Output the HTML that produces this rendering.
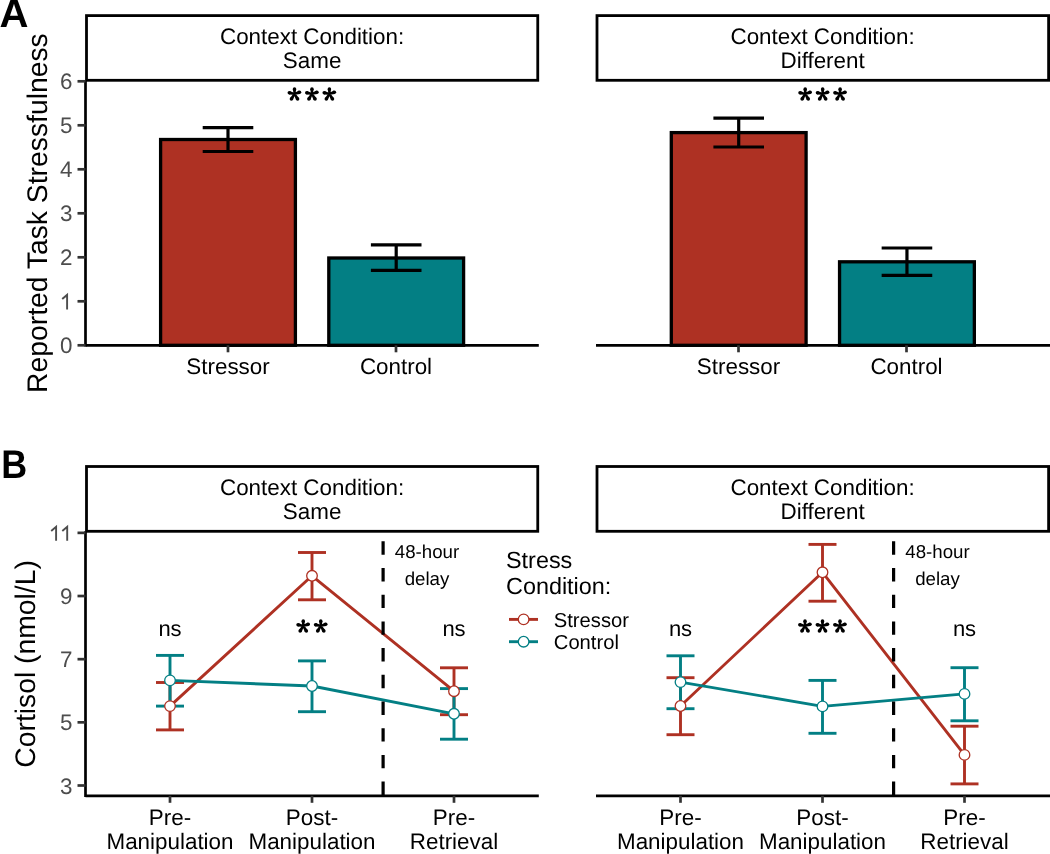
<!DOCTYPE html>
<html><head><meta charset="utf-8"><style>
html,body{margin:0;padding:0;background:#fff;}
svg{display:block;font-family:"Liberation Sans", sans-serif;will-change:transform;text-rendering:geometricPrecision;}
</style></head><body>
<svg width="1050" height="854" viewBox="0 0 1050 854">
<rect width="1050" height="854" fill="#fff"/>
<text transform="translate(-0.6,26.9) scale(1.1,1.092)" font-size="36.5" font-weight="bold" fill="#000">A</text>
<text transform="translate(1.23,477.6) scale(0.983,1.093)" font-size="36.5" font-weight="bold" fill="#000">B</text>
<text transform="translate(47,213.1) rotate(-90)" font-size="28.3" text-anchor="middle" fill="#000">Reported Task Stressfulness</text>
<text transform="translate(35,663.9) rotate(-90)" font-size="28.3" text-anchor="middle" fill="#000">Cortisol (nmol/L)</text>
<rect x="86.5" y="15.6" width="451.25" height="64.7" fill="#fff" stroke="#000" stroke-width="2.8"/>
<text x="312.1" y="43.7" font-size="22.4" text-anchor="middle" fill="#000" font-weight="normal" >Context Condition:</text>
<text x="312.1" y="68.3" font-size="22.4" text-anchor="middle" fill="#000" font-weight="normal" >Same</text>
<rect x="160.6" y="139.5" width="134.8" height="205.8" fill="#AE3123" stroke="#000" stroke-width="3.3"/>
<line x1="228.0" y1="127.7" x2="228.0" y2="151.5" stroke="#000" stroke-width="3.2" />
<line x1="202.7" y1="127.7" x2="253.3" y2="127.7" stroke="#000" stroke-width="3.2" />
<line x1="202.7" y1="151.5" x2="253.3" y2="151.5" stroke="#000" stroke-width="3.2" />
<rect x="328.79999999999995" y="258.0" width="134.8" height="87.30000000000001" fill="#037F84" stroke="#000" stroke-width="3.3"/>
<line x1="396.2" y1="244.8" x2="396.2" y2="270.4" stroke="#000" stroke-width="3.2" />
<line x1="370.9" y1="244.8" x2="421.5" y2="244.8" stroke="#000" stroke-width="3.2" />
<line x1="370.9" y1="270.4" x2="421.5" y2="270.4" stroke="#000" stroke-width="3.2" />
<line x1="85.5" y1="345.3" x2="538.8" y2="345.3" stroke="#000" stroke-width="2.7" />
<line x1="228.0" y1="345.3" x2="228.0" y2="352.3" stroke="#333" stroke-width="2.7" />
<text x="228.0" y="374" font-size="22.4" text-anchor="middle" fill="#000" font-weight="normal" >Stressor</text>
<line x1="396.0" y1="345.3" x2="396.0" y2="352.3" stroke="#333" stroke-width="2.7" />
<text x="396.0" y="374" font-size="22.4" text-anchor="middle" fill="#000" font-weight="normal" >Control</text>
<circle cx="294.50" cy="89.10" r="1.75" fill="#000"/>
<circle cx="289.30" cy="92.70" r="1.75" fill="#000"/>
<circle cx="299.50" cy="92.30" r="1.75" fill="#000"/>
<circle cx="291.40" cy="99.10" r="1.75" fill="#000"/>
<circle cx="297.60" cy="99.10" r="1.75" fill="#000"/>
<path d="M295.40 93.80L296.25 89.10L292.75 89.10L293.60 93.80ZM294.69 92.92L289.66 90.99L288.94 94.41L294.31 94.68ZM294.76 94.66L300.00 93.98L299.00 90.62L294.24 92.94ZM293.72 93.35L289.89 98.22L292.91 99.98L295.28 94.25ZM293.72 94.25L296.09 99.98L299.11 98.22L295.28 93.35Z" fill="#000"/>
<circle cx="311.95" cy="89.10" r="1.75" fill="#000"/>
<circle cx="306.75" cy="92.70" r="1.75" fill="#000"/>
<circle cx="316.95" cy="92.30" r="1.75" fill="#000"/>
<circle cx="308.85" cy="99.10" r="1.75" fill="#000"/>
<circle cx="315.05" cy="99.10" r="1.75" fill="#000"/>
<path d="M312.85 93.80L313.70 89.10L310.20 89.10L311.05 93.80ZM312.14 92.92L307.11 90.99L306.39 94.41L311.76 94.68ZM312.21 94.66L317.45 93.98L316.45 90.62L311.69 92.94ZM311.17 93.35L307.34 98.22L310.36 99.98L312.73 94.25ZM311.17 94.25L313.54 99.98L316.56 98.22L312.73 93.35Z" fill="#000"/>
<circle cx="329.40" cy="89.10" r="1.75" fill="#000"/>
<circle cx="324.20" cy="92.70" r="1.75" fill="#000"/>
<circle cx="334.40" cy="92.30" r="1.75" fill="#000"/>
<circle cx="326.30" cy="99.10" r="1.75" fill="#000"/>
<circle cx="332.50" cy="99.10" r="1.75" fill="#000"/>
<path d="M330.30 93.80L331.15 89.10L327.65 89.10L328.50 93.80ZM329.59 92.92L324.56 90.99L323.84 94.41L329.21 94.68ZM329.66 94.66L334.90 93.98L333.90 90.62L329.14 92.94ZM328.62 93.35L324.79 98.22L327.81 99.98L330.18 94.25ZM328.62 94.25L330.99 99.98L334.01 98.22L330.18 93.35Z" fill="#000"/>
<rect x="597.0" y="15.6" width="451.5999999999999" height="64.7" fill="#fff" stroke="#000" stroke-width="2.8"/>
<text x="822.6" y="43.7" font-size="22.4" text-anchor="middle" fill="#000" font-weight="normal" >Context Condition:</text>
<text x="822.6" y="68.3" font-size="22.4" text-anchor="middle" fill="#000" font-weight="normal" >Different</text>
<rect x="671.3000000000001" y="132.6" width="134.8" height="212.70000000000002" fill="#AE3123" stroke="#000" stroke-width="3.3"/>
<line x1="738.7" y1="118.1" x2="738.7" y2="147.0" stroke="#000" stroke-width="3.2" />
<line x1="713.4000000000001" y1="118.1" x2="764.0" y2="118.1" stroke="#000" stroke-width="3.2" />
<line x1="713.4000000000001" y1="147.0" x2="764.0" y2="147.0" stroke="#000" stroke-width="3.2" />
<rect x="839.5500000000001" y="261.8" width="134.8" height="83.5" fill="#037F84" stroke="#000" stroke-width="3.3"/>
<line x1="906.95" y1="248.0" x2="906.95" y2="275.3" stroke="#000" stroke-width="3.2" />
<line x1="881.6500000000001" y1="248.0" x2="932.25" y2="248.0" stroke="#000" stroke-width="3.2" />
<line x1="881.6500000000001" y1="275.3" x2="932.25" y2="275.3" stroke="#000" stroke-width="3.2" />
<line x1="596.0" y1="345.3" x2="1050" y2="345.3" stroke="#000" stroke-width="2.7" />
<line x1="738.5" y1="345.3" x2="738.5" y2="352.3" stroke="#333" stroke-width="2.7" />
<text x="738.5" y="374" font-size="22.4" text-anchor="middle" fill="#000" font-weight="normal" >Stressor</text>
<line x1="906.5" y1="345.3" x2="906.5" y2="352.3" stroke="#333" stroke-width="2.7" />
<text x="906.5" y="374" font-size="22.4" text-anchor="middle" fill="#000" font-weight="normal" >Control</text>
<circle cx="805.20" cy="89.10" r="1.75" fill="#000"/>
<circle cx="800.00" cy="92.70" r="1.75" fill="#000"/>
<circle cx="810.20" cy="92.30" r="1.75" fill="#000"/>
<circle cx="802.10" cy="99.10" r="1.75" fill="#000"/>
<circle cx="808.30" cy="99.10" r="1.75" fill="#000"/>
<path d="M806.10 93.80L806.95 89.10L803.45 89.10L804.30 93.80ZM805.39 92.92L800.36 90.99L799.64 94.41L805.01 94.68ZM805.46 94.66L810.70 93.98L809.70 90.62L804.94 92.94ZM804.42 93.35L800.59 98.22L803.61 99.98L805.98 94.25ZM804.42 94.25L806.79 99.98L809.81 98.22L805.98 93.35Z" fill="#000"/>
<circle cx="822.65" cy="89.10" r="1.75" fill="#000"/>
<circle cx="817.45" cy="92.70" r="1.75" fill="#000"/>
<circle cx="827.65" cy="92.30" r="1.75" fill="#000"/>
<circle cx="819.55" cy="99.10" r="1.75" fill="#000"/>
<circle cx="825.75" cy="99.10" r="1.75" fill="#000"/>
<path d="M823.55 93.80L824.40 89.10L820.90 89.10L821.75 93.80ZM822.84 92.92L817.81 90.99L817.09 94.41L822.46 94.68ZM822.91 94.66L828.15 93.98L827.15 90.62L822.39 92.94ZM821.87 93.35L818.04 98.22L821.06 99.98L823.43 94.25ZM821.87 94.25L824.24 99.98L827.26 98.22L823.43 93.35Z" fill="#000"/>
<circle cx="840.10" cy="89.10" r="1.75" fill="#000"/>
<circle cx="834.90" cy="92.70" r="1.75" fill="#000"/>
<circle cx="845.10" cy="92.30" r="1.75" fill="#000"/>
<circle cx="837.00" cy="99.10" r="1.75" fill="#000"/>
<circle cx="843.20" cy="99.10" r="1.75" fill="#000"/>
<path d="M841.00 93.80L841.85 89.10L838.35 89.10L839.20 93.80ZM840.29 92.92L835.26 90.99L834.54 94.41L839.91 94.68ZM840.36 94.66L845.60 93.98L844.60 90.62L839.84 92.94ZM839.32 93.35L835.49 98.22L838.51 99.98L840.88 94.25ZM839.32 94.25L841.69 99.98L844.71 98.22L840.88 93.35Z" fill="#000"/>
<line x1="85.5" y1="80.3" x2="85.5" y2="346.6" stroke="#000" stroke-width="2.7" />
<line x1="77.5" y1="345.3" x2="85.5" y2="345.3" stroke="#333" stroke-width="2.7" />
<text x="72.5" y="353.3" font-size="22.4" text-anchor="end" fill="#4d4d4d" font-weight="normal" >0</text>
<line x1="77.5" y1="301.3" x2="85.5" y2="301.3" stroke="#333" stroke-width="2.7" />
<path d="M62.20 299.00L67.10 294.90L67.10 309.60" stroke="#4d4d4d" stroke-width="1.9" fill="none" stroke-linejoin="miter" stroke-linecap="butt"/>
<line x1="77.5" y1="257.3" x2="85.5" y2="257.3" stroke="#333" stroke-width="2.7" />
<text x="72.5" y="265.3" font-size="22.4" text-anchor="end" fill="#4d4d4d" font-weight="normal" >2</text>
<line x1="77.5" y1="213.3" x2="85.5" y2="213.3" stroke="#333" stroke-width="2.7" />
<text x="72.5" y="221.3" font-size="22.4" text-anchor="end" fill="#4d4d4d" font-weight="normal" >3</text>
<line x1="77.5" y1="169.3" x2="85.5" y2="169.3" stroke="#333" stroke-width="2.7" />
<text x="72.5" y="177.3" font-size="22.4" text-anchor="end" fill="#4d4d4d" font-weight="normal" >4</text>
<line x1="77.5" y1="125.30000000000001" x2="85.5" y2="125.30000000000001" stroke="#333" stroke-width="2.7" />
<text x="72.5" y="133.3" font-size="22.4" text-anchor="end" fill="#4d4d4d" font-weight="normal" >5</text>
<line x1="77.5" y1="81.30000000000001" x2="85.5" y2="81.30000000000001" stroke="#333" stroke-width="2.7" />
<text x="72.5" y="89.30000000000001" font-size="22.4" text-anchor="end" fill="#4d4d4d" font-weight="normal" >6</text>
<rect x="86.5" y="466.5" width="451.25" height="64.79999999999995" fill="#fff" stroke="#000" stroke-width="2.8"/>
<text x="312.1" y="494.5" font-size="22.4" text-anchor="middle" fill="#000" font-weight="normal" >Context Condition:</text>
<text x="312.1" y="519" font-size="22.4" text-anchor="middle" fill="#000" font-weight="normal" >Same</text>
<line x1="85.5" y1="795.8" x2="538.8" y2="795.8" stroke="#000" stroke-width="2.7" />
<line x1="170.0" y1="795.8" x2="170.0" y2="802.8" stroke="#333" stroke-width="2.7" />
<text x="170.0" y="824.8" font-size="22.4" text-anchor="middle" fill="#000" font-weight="normal" >Pre-</text>
<text x="170.0" y="849.0" font-size="22.4" text-anchor="middle" fill="#000" font-weight="normal" >Manipulation</text>
<line x1="312.0" y1="795.8" x2="312.0" y2="802.8" stroke="#333" stroke-width="2.7" />
<text x="312.0" y="824.8" font-size="22.4" text-anchor="middle" fill="#000" font-weight="normal" >Post-</text>
<text x="312.0" y="849.0" font-size="22.4" text-anchor="middle" fill="#000" font-weight="normal" >Manipulation</text>
<line x1="454.0" y1="795.8" x2="454.0" y2="802.8" stroke="#333" stroke-width="2.7" />
<text x="454.0" y="824.8" font-size="22.4" text-anchor="middle" fill="#000" font-weight="normal" >Pre-</text>
<text x="454.0" y="849.0" font-size="22.4" text-anchor="middle" fill="#000" font-weight="normal" >Retrieval</text>
<text x="427.0" y="557.6" font-size="18.7" text-anchor="middle" fill="#000" font-weight="normal" >48-hour</text>
<text x="427.0" y="584.8" font-size="18.7" text-anchor="middle" fill="#000" font-weight="normal" >delay</text>
<line x1="170.0" y1="682.5" x2="170.0" y2="729.9" stroke="#AE3123" stroke-width="2.9" />
<line x1="156.0" y1="682.5" x2="184.0" y2="682.5" stroke="#AE3123" stroke-width="2.9" />
<line x1="156.0" y1="729.9" x2="184.0" y2="729.9" stroke="#AE3123" stroke-width="2.9" />
<line x1="312.0" y1="552.5" x2="312.0" y2="599.8" stroke="#AE3123" stroke-width="2.9" />
<line x1="298.0" y1="552.5" x2="326.0" y2="552.5" stroke="#AE3123" stroke-width="2.9" />
<line x1="298.0" y1="599.8" x2="326.0" y2="599.8" stroke="#AE3123" stroke-width="2.9" />
<line x1="454.0" y1="667.8" x2="454.0" y2="714.7" stroke="#AE3123" stroke-width="2.9" />
<line x1="440.0" y1="667.8" x2="468.0" y2="667.8" stroke="#AE3123" stroke-width="2.9" />
<line x1="440.0" y1="714.7" x2="468.0" y2="714.7" stroke="#AE3123" stroke-width="2.9" />
<line x1="170.0" y1="655.4" x2="170.0" y2="706.1" stroke="#037F84" stroke-width="2.9" />
<line x1="156.0" y1="655.4" x2="184.0" y2="655.4" stroke="#037F84" stroke-width="2.9" />
<line x1="156.0" y1="706.1" x2="184.0" y2="706.1" stroke="#037F84" stroke-width="2.9" />
<line x1="312.0" y1="660.9" x2="312.0" y2="711.7" stroke="#037F84" stroke-width="2.9" />
<line x1="298.0" y1="660.9" x2="326.0" y2="660.9" stroke="#037F84" stroke-width="2.9" />
<line x1="298.0" y1="711.7" x2="326.0" y2="711.7" stroke="#037F84" stroke-width="2.9" />
<line x1="454.0" y1="688.6" x2="454.0" y2="739.2" stroke="#037F84" stroke-width="2.9" />
<line x1="440.0" y1="688.6" x2="468.0" y2="688.6" stroke="#037F84" stroke-width="2.9" />
<line x1="440.0" y1="739.2" x2="468.0" y2="739.2" stroke="#037F84" stroke-width="2.9" />
<polyline points="170.0,706.1 312.0,575.8 454.0,691.2" fill="none" stroke="#AE3123" stroke-width="2.9" stroke-linejoin="round"/>
<polyline points="170.0,680.4 312.0,686.0 454.0,713.8" fill="none" stroke="#037F84" stroke-width="2.9" stroke-linejoin="round"/>
<line x1="383.1" y1="531.3" x2="383.1" y2="795.8" stroke="#000" stroke-width="3.2" stroke-dasharray="13.4 13.3" stroke-dashoffset="-10"/>
<circle cx="170.0" cy="706.1" r="5.3" fill="#fff" stroke="#AE3123" stroke-width="1.3"/>
<circle cx="312.0" cy="575.8" r="5.3" fill="#fff" stroke="#AE3123" stroke-width="1.3"/>
<circle cx="454.0" cy="691.2" r="5.3" fill="#fff" stroke="#AE3123" stroke-width="1.3"/>
<circle cx="170.0" cy="680.4" r="5.3" fill="#fff" stroke="#037F84" stroke-width="1.3"/>
<circle cx="312.0" cy="686.0" r="5.3" fill="#fff" stroke="#037F84" stroke-width="1.3"/>
<circle cx="454.0" cy="713.8" r="5.3" fill="#fff" stroke="#037F84" stroke-width="1.3"/>
<text x="170.0" y="635.8" font-size="22" text-anchor="middle" fill="#000" font-weight="normal" >ns</text>
<circle cx="303.25" cy="621.10" r="1.75" fill="#000"/>
<circle cx="298.05" cy="624.70" r="1.75" fill="#000"/>
<circle cx="308.25" cy="624.30" r="1.75" fill="#000"/>
<circle cx="300.15" cy="631.10" r="1.75" fill="#000"/>
<circle cx="306.35" cy="631.10" r="1.75" fill="#000"/>
<path d="M304.15 625.80L305.00 621.10L301.50 621.10L302.35 625.80ZM303.44 624.92L298.41 622.99L297.69 626.41L303.06 626.68ZM303.51 626.66L308.75 625.98L307.75 622.62L302.99 624.94ZM302.47 625.35L298.64 630.22L301.66 631.98L304.03 626.25ZM302.47 626.25L304.84 631.98L307.86 630.22L304.03 625.35Z" fill="#000"/>
<circle cx="320.75" cy="621.10" r="1.75" fill="#000"/>
<circle cx="315.55" cy="624.70" r="1.75" fill="#000"/>
<circle cx="325.75" cy="624.30" r="1.75" fill="#000"/>
<circle cx="317.65" cy="631.10" r="1.75" fill="#000"/>
<circle cx="323.85" cy="631.10" r="1.75" fill="#000"/>
<path d="M321.65 625.80L322.50 621.10L319.00 621.10L319.85 625.80ZM320.94 624.92L315.91 622.99L315.19 626.41L320.56 626.68ZM321.01 626.66L326.25 625.98L325.25 622.62L320.49 624.94ZM319.97 625.35L316.14 630.22L319.16 631.98L321.53 626.25ZM319.97 626.25L322.34 631.98L325.36 630.22L321.53 625.35Z" fill="#000"/>
<text x="454.0" y="635.8" font-size="22" text-anchor="middle" fill="#000" font-weight="normal" >ns</text>
<rect x="597.0" y="466.5" width="451.5999999999999" height="64.79999999999995" fill="#fff" stroke="#000" stroke-width="2.8"/>
<text x="822.6" y="494.5" font-size="22.4" text-anchor="middle" fill="#000" font-weight="normal" >Context Condition:</text>
<text x="822.6" y="519" font-size="22.4" text-anchor="middle" fill="#000" font-weight="normal" >Different</text>
<line x1="596" y1="795.8" x2="1050" y2="795.8" stroke="#000" stroke-width="2.7" />
<line x1="680.5" y1="795.8" x2="680.5" y2="802.8" stroke="#333" stroke-width="2.7" />
<text x="680.5" y="824.8" font-size="22.4" text-anchor="middle" fill="#000" font-weight="normal" >Pre-</text>
<text x="680.5" y="849.0" font-size="22.4" text-anchor="middle" fill="#000" font-weight="normal" >Manipulation</text>
<line x1="822.5" y1="795.8" x2="822.5" y2="802.8" stroke="#333" stroke-width="2.7" />
<text x="822.5" y="824.8" font-size="22.4" text-anchor="middle" fill="#000" font-weight="normal" >Post-</text>
<text x="822.5" y="849.0" font-size="22.4" text-anchor="middle" fill="#000" font-weight="normal" >Manipulation</text>
<line x1="964.5" y1="795.8" x2="964.5" y2="802.8" stroke="#333" stroke-width="2.7" />
<text x="964.5" y="824.8" font-size="22.4" text-anchor="middle" fill="#000" font-weight="normal" >Pre-</text>
<text x="964.5" y="849.0" font-size="22.4" text-anchor="middle" fill="#000" font-weight="normal" >Retrieval</text>
<text x="937.5" y="557.6" font-size="18.7" text-anchor="middle" fill="#000" font-weight="normal" >48-hour</text>
<text x="937.5" y="584.8" font-size="18.7" text-anchor="middle" fill="#000" font-weight="normal" >delay</text>
<line x1="680.5" y1="677.7" x2="680.5" y2="734.7" stroke="#AE3123" stroke-width="2.9" />
<line x1="666.5" y1="677.7" x2="694.5" y2="677.7" stroke="#AE3123" stroke-width="2.9" />
<line x1="666.5" y1="734.7" x2="694.5" y2="734.7" stroke="#AE3123" stroke-width="2.9" />
<line x1="822.5" y1="544.4" x2="822.5" y2="601.2" stroke="#AE3123" stroke-width="2.9" />
<line x1="808.5" y1="544.4" x2="836.5" y2="544.4" stroke="#AE3123" stroke-width="2.9" />
<line x1="808.5" y1="601.2" x2="836.5" y2="601.2" stroke="#AE3123" stroke-width="2.9" />
<line x1="964.5" y1="726.2" x2="964.5" y2="783.9" stroke="#AE3123" stroke-width="2.9" />
<line x1="950.5" y1="726.2" x2="978.5" y2="726.2" stroke="#AE3123" stroke-width="2.9" />
<line x1="950.5" y1="783.9" x2="978.5" y2="783.9" stroke="#AE3123" stroke-width="2.9" />
<line x1="680.5" y1="655.8" x2="680.5" y2="708.7" stroke="#037F84" stroke-width="2.9" />
<line x1="666.5" y1="655.8" x2="694.5" y2="655.8" stroke="#037F84" stroke-width="2.9" />
<line x1="666.5" y1="708.7" x2="694.5" y2="708.7" stroke="#037F84" stroke-width="2.9" />
<line x1="822.5" y1="680.4" x2="822.5" y2="733.3" stroke="#037F84" stroke-width="2.9" />
<line x1="808.5" y1="680.4" x2="836.5" y2="680.4" stroke="#037F84" stroke-width="2.9" />
<line x1="808.5" y1="733.3" x2="836.5" y2="733.3" stroke="#037F84" stroke-width="2.9" />
<line x1="964.5" y1="667.7" x2="964.5" y2="720.8" stroke="#037F84" stroke-width="2.9" />
<line x1="950.5" y1="667.7" x2="978.5" y2="667.7" stroke="#037F84" stroke-width="2.9" />
<line x1="950.5" y1="720.8" x2="978.5" y2="720.8" stroke="#037F84" stroke-width="2.9" />
<polyline points="680.5,706.0 822.5,572.3 964.5,754.9" fill="none" stroke="#AE3123" stroke-width="2.9" stroke-linejoin="round"/>
<polyline points="680.5,682.1 822.5,706.4 964.5,693.9" fill="none" stroke="#037F84" stroke-width="2.9" stroke-linejoin="round"/>
<line x1="893.6" y1="531.3" x2="893.6" y2="795.8" stroke="#000" stroke-width="3.2" stroke-dasharray="13.4 13.3" stroke-dashoffset="-10"/>
<circle cx="680.5" cy="706.0" r="5.3" fill="#fff" stroke="#AE3123" stroke-width="1.3"/>
<circle cx="822.5" cy="572.3" r="5.3" fill="#fff" stroke="#AE3123" stroke-width="1.3"/>
<circle cx="964.5" cy="754.9" r="5.3" fill="#fff" stroke="#AE3123" stroke-width="1.3"/>
<circle cx="680.5" cy="682.1" r="5.3" fill="#fff" stroke="#037F84" stroke-width="1.3"/>
<circle cx="822.5" cy="706.4" r="5.3" fill="#fff" stroke="#037F84" stroke-width="1.3"/>
<circle cx="964.5" cy="693.9" r="5.3" fill="#fff" stroke="#037F84" stroke-width="1.3"/>
<text x="680.5" y="635.8" font-size="22" text-anchor="middle" fill="#000" font-weight="normal" >ns</text>
<circle cx="805.00" cy="621.10" r="1.75" fill="#000"/>
<circle cx="799.80" cy="624.70" r="1.75" fill="#000"/>
<circle cx="810.00" cy="624.30" r="1.75" fill="#000"/>
<circle cx="801.90" cy="631.10" r="1.75" fill="#000"/>
<circle cx="808.10" cy="631.10" r="1.75" fill="#000"/>
<path d="M805.90 625.80L806.75 621.10L803.25 621.10L804.10 625.80ZM805.19 624.92L800.16 622.99L799.44 626.41L804.81 626.68ZM805.26 626.66L810.50 625.98L809.50 622.62L804.74 624.94ZM804.22 625.35L800.39 630.22L803.41 631.98L805.78 626.25ZM804.22 626.25L806.59 631.98L809.61 630.22L805.78 625.35Z" fill="#000"/>
<circle cx="822.50" cy="621.10" r="1.75" fill="#000"/>
<circle cx="817.30" cy="624.70" r="1.75" fill="#000"/>
<circle cx="827.50" cy="624.30" r="1.75" fill="#000"/>
<circle cx="819.40" cy="631.10" r="1.75" fill="#000"/>
<circle cx="825.60" cy="631.10" r="1.75" fill="#000"/>
<path d="M823.40 625.80L824.25 621.10L820.75 621.10L821.60 625.80ZM822.69 624.92L817.66 622.99L816.94 626.41L822.31 626.68ZM822.76 626.66L828.00 625.98L827.00 622.62L822.24 624.94ZM821.72 625.35L817.89 630.22L820.91 631.98L823.28 626.25ZM821.72 626.25L824.09 631.98L827.11 630.22L823.28 625.35Z" fill="#000"/>
<circle cx="840.00" cy="621.10" r="1.75" fill="#000"/>
<circle cx="834.80" cy="624.70" r="1.75" fill="#000"/>
<circle cx="845.00" cy="624.30" r="1.75" fill="#000"/>
<circle cx="836.90" cy="631.10" r="1.75" fill="#000"/>
<circle cx="843.10" cy="631.10" r="1.75" fill="#000"/>
<path d="M840.90 625.80L841.75 621.10L838.25 621.10L839.10 625.80ZM840.19 624.92L835.16 622.99L834.44 626.41L839.81 626.68ZM840.26 626.66L845.50 625.98L844.50 622.62L839.74 624.94ZM839.22 625.35L835.39 630.22L838.41 631.98L840.78 626.25ZM839.22 626.25L841.59 631.98L844.61 630.22L840.78 625.35Z" fill="#000"/>
<text x="964.5" y="635.8" font-size="22" text-anchor="middle" fill="#000" font-weight="normal" >ns</text>
<line x1="85.5" y1="531.3" x2="85.5" y2="797.0999999999999" stroke="#000" stroke-width="2.7" />
<line x1="77.5" y1="785.5" x2="85.5" y2="785.5" stroke="#333" stroke-width="2.7" />
<text x="72.5" y="793.5" font-size="22.4" text-anchor="end" fill="#4d4d4d" font-weight="normal" >3</text>
<line x1="77.5" y1="722.34" x2="85.5" y2="722.34" stroke="#333" stroke-width="2.7" />
<text x="72.5" y="730.34" font-size="22.4" text-anchor="end" fill="#4d4d4d" font-weight="normal" >5</text>
<line x1="77.5" y1="659.1800000000001" x2="85.5" y2="659.1800000000001" stroke="#333" stroke-width="2.7" />
<text x="72.5" y="667.1800000000001" font-size="22.4" text-anchor="end" fill="#4d4d4d" font-weight="normal" >7</text>
<line x1="77.5" y1="596.02" x2="85.5" y2="596.02" stroke="#333" stroke-width="2.7" />
<text x="72.5" y="604.02" font-size="22.4" text-anchor="end" fill="#4d4d4d" font-weight="normal" >9</text>
<line x1="77.5" y1="532.86" x2="85.5" y2="532.86" stroke="#333" stroke-width="2.7" />
<path d="M51.20 530.90L56.10 526.80L56.10 540.80" stroke="#4d4d4d" stroke-width="1.9" fill="none" stroke-linejoin="miter" stroke-linecap="butt"/>
<path d="M62.30 530.90L67.20 526.80L67.20 540.80" stroke="#4d4d4d" stroke-width="1.9" fill="none" stroke-linejoin="miter" stroke-linecap="butt"/>
<text x="506" y="568.1" font-size="23.4" text-anchor="start" fill="#000" font-weight="normal" >Stress</text>
<text x="506" y="594" font-size="23.4" text-anchor="start" fill="#000" font-weight="normal" >Condition:</text>
<line x1="509" y1="619.4" x2="538" y2="619.4" stroke="#AE3123" stroke-width="2.9" />
<circle cx="523.6" cy="619.4" r="5.3" fill="#fff" stroke="#AE3123" stroke-width="1.3"/>
<text x="553.8" y="626.8" font-size="20.2" text-anchor="start" fill="#000" font-weight="normal" >Stressor</text>
<line x1="509" y1="641.7" x2="538" y2="641.7" stroke="#037F84" stroke-width="2.9" />
<circle cx="523.6" cy="641.7" r="5.3" fill="#fff" stroke="#037F84" stroke-width="1.3"/>
<text x="553.8" y="649.1" font-size="20.2" text-anchor="start" fill="#000" font-weight="normal" >Control</text>
</svg>
</body></html>
